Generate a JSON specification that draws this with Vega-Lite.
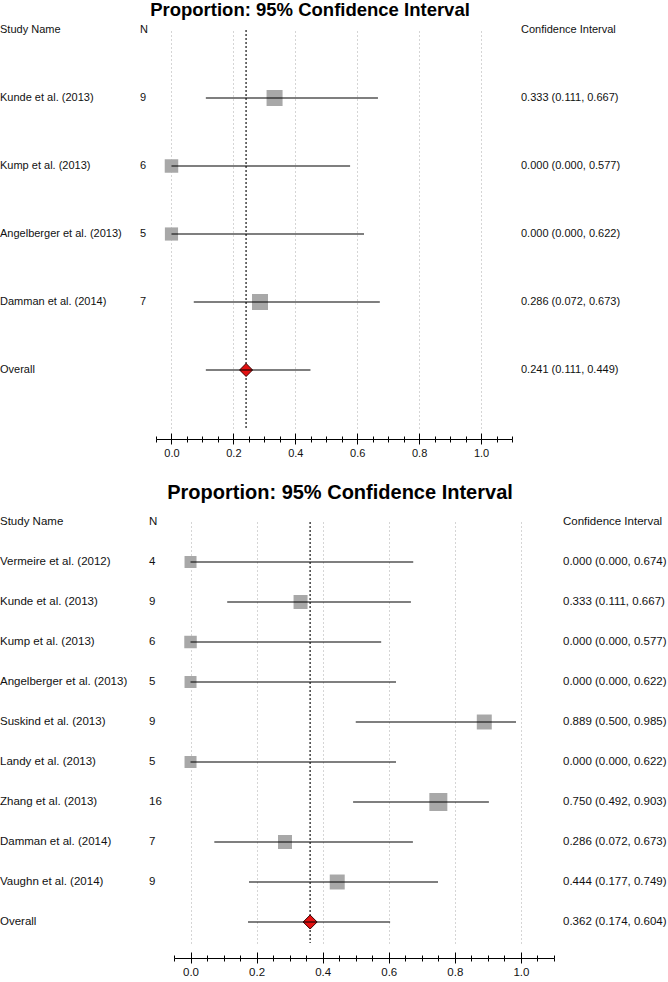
{
  "$schema": "https://vega.github.io/schema/vega-lite/v6.json",
  "padding": 0,
  "background": "white",
  "config": {"view": {"stroke": null}, "font": "Liberation Sans"},
  "resolve": {"scale": {"size": "independent"}},
  "datasets": {
    "top": [
      {"study": "Study Name", "n": "N", "ci": "Confidence Interval", "type": "header"},
      {"study": "Kunde et al. (2013)", "n": "9", "p": 0.333, "lo": 0.111, "hi": 0.667, "ci": "0.333 (0.111, 0.667)", "weight": 29.5, "type": "study"},
      {"study": "Kump et al. (2013)", "n": "6", "p": 0.0, "lo": 0.0, "hi": 0.577, "ci": "0.000 (0.000, 0.577)", "weight": 21, "type": "study"},
      {"study": "Angelberger et al. (2013)", "n": "5", "p": 0.0, "lo": 0.0, "hi": 0.622, "ci": "0.000 (0.000, 0.622)", "weight": 20, "type": "study"},
      {"study": "Damman et al. (2014)", "n": "7", "p": 0.286, "lo": 0.072, "hi": 0.673, "ci": "0.286 (0.072, 0.673)", "weight": 29.5, "type": "study"},
      {"study": "Overall", "n": "", "p": 0.241, "lo": 0.111, "hi": 0.449, "ci": "0.241 (0.111, 0.449)", "type": "overall"}
    ],
    "bottom": [
      {"study": "Study Name", "n": "N", "ci": "Confidence Interval", "type": "header"},
      {"study": "Vermeire et al. (2012)", "n": "4", "p": 0.0, "lo": 0.0, "hi": 0.674, "ci": "0.000 (0.000, 0.674)", "weight": 8.2, "type": "study"},
      {"study": "Kunde et al. (2013)", "n": "9", "p": 0.333, "lo": 0.111, "hi": 0.667, "ci": "0.333 (0.111, 0.667)", "weight": 11.2, "type": "study"},
      {"study": "Kump et al. (2013)", "n": "6", "p": 0.0, "lo": 0.0, "hi": 0.577, "ci": "0.000 (0.000, 0.577)", "weight": 8.9, "type": "study"},
      {"study": "Angelberger et al. (2013)", "n": "5", "p": 0.0, "lo": 0.0, "hi": 0.622, "ci": "0.000 (0.000, 0.622)", "weight": 8.2, "type": "study"},
      {"study": "Suskind et al. (2013)", "n": "9", "p": 0.889, "lo": 0.5, "hi": 0.985, "ci": "0.889 (0.500, 0.985)", "weight": 12.8, "type": "study"},
      {"study": "Landy et al. (2013)", "n": "5", "p": 0.0, "lo": 0.0, "hi": 0.622, "ci": "0.000 (0.000, 0.622)", "weight": 8.2, "type": "study"},
      {"study": "Zhang et al. (2013)", "n": "16", "p": 0.75, "lo": 0.492, "hi": 0.903, "ci": "0.750 (0.492, 0.903)", "weight": 18.5, "type": "study"},
      {"study": "Damman et al. (2014)", "n": "7", "p": 0.286, "lo": 0.072, "hi": 0.673, "ci": "0.286 (0.072, 0.673)", "weight": 11.2, "type": "study"},
      {"study": "Vaughn et al. (2014)", "n": "9", "p": 0.444, "lo": 0.177, "hi": 0.749, "ci": "0.444 (0.177, 0.749)", "weight": 12.8, "type": "study"},
      {"study": "Overall", "n": "", "p": 0.362, "lo": 0.174, "hi": 0.604, "ci": "0.362 (0.174, 0.604)", "type": "overall"}
    ]
  },
  "vconcat": [
    {
      "title": {"text": "Proportion: 95% Confidence Interval", "anchor": "middle", "frame": "bounds", "dx": -25, "fontSize": 18.5, "fontWeight": "bold", "font": "Liberation Sans", "color": "#000", "offset": 5},
      "data": {"name": "top"},
      "spacing": 0,
      "hconcat": [
        {
          "width": 140, "height": 398,
          "mark": {"type": "text", "align": "left", "baseline": "middle", "fontSize": 11, "color": "#111"},
          "encoding": {
            "x": {"datum": 0, "type": "quantitative", "scale": {"domain": [0, 1]}, "axis": null},
            "y": {"field": "study", "type": "nominal", "sort": null, "axis": null,
                  "scale": {"type": "point", "domain": ["Study Name", "Kunde et al. (2013)", "Kump et al. (2013)", "Angelberger et al. (2013)", "Damman et al. (2014)", "Overall"], "padding": 0.4265, "align": 0, "round": false}},
            "text": {"field": "study"}
          }
        },
        {
          "width": 15, "height": 398,
          "mark": {"type": "text", "align": "left", "baseline": "middle", "fontSize": 11, "color": "#111"},
          "encoding": {
            "x": {"datum": 0, "type": "quantitative", "scale": {"domain": [0, 1]}, "axis": null},
            "y": {"field": "study", "type": "nominal", "sort": null, "axis": null,
                  "scale": {"type": "point", "domain": ["Study Name", "Kunde et al. (2013)", "Kump et al. (2013)", "Angelberger et al. (2013)", "Damman et al. (2014)", "Overall"], "padding": 0.4265, "align": 0, "round": false}},
            "text": {"field": "n"}
          }
        },
        {
          "width": 356, "height": 398,
          "resolve": {"axis": {"x": "independent"}},
          "encoding": {
            "y": {"field": "study", "type": "nominal", "sort": null, "axis": null,
                  "scale": {"type": "point", "domain": ["Study Name", "Kunde et al. (2013)", "Kump et al. (2013)", "Angelberger et al. (2013)", "Damman et al. (2014)", "Overall"], "padding": 0.4265, "align": 0, "round": false}}
          },
          "layer": [
            {
              "transform": [{"filter": "datum.type === 'overall'"}],
              "mark": {"type": "rule", "color": "#444", "strokeWidth": 1.5, "strokeDash": [2, 2]},
              "encoding": {
                "x": {"field": "p", "type": "quantitative",
                      "scale": {"domain": [-0.05, 1.1], "nice": false, "zero": false},
                      "axis": {
                        "orient": "bottom", "offset": 11, "title": null,
                        "values": [0, 0.2, 0.4, 0.6, 0.8, 1.0], "format": ".1f",
                        "labelOverlap": false, "labelFlush": false, "labelBound": false,
                        "labelFont": "Liberation Sans", "labelFontSize": 11, "labelColor": "#111", "labelPadding": 3,
                        "tickColor": "#000", "tickWidth": 1, "tickSize": 5,
                        "domainColor": "#000", "domainWidth": 1,
                        "grid": true, "gridColor": "#aaa", "gridDash": [1, 3], "gridWidth": 1
                      }},
                "y": null
              }
            },
            {
              "transform": [{"filter": "datum.type === 'study'"}],
              "mark": {"type": "square", "filled": true, "color": "#a8a8a8", "opacity": 1},
              "encoding": {
                "x": {"field": "p", "type": "quantitative",
                      "axis": {"orient": "bottom", "offset": 11, "title": null, "labels": false, "domain": false, "grid": false,
                               "values": [-0.05, 0, 0.05, 0.1, 0.15, 0.2, 0.25, 0.3, 0.35, 0.4, 0.45, 0.5, 0.55, 0.6, 0.65, 0.7, 0.75, 0.8, 0.85, 0.9, 0.95, 1.0, 1.05, 1.1],
                               "tickColor": "#000", "tickWidth": 1, "tickSize": 3}},
                "size": {"field": "weight", "type": "quantitative", "legend": null, "scale": {"domain": [0, 29.5], "range": [0, 256]}}
              }
            },
            {
              "transform": [{"filter": "datum.type === 'overall'"}],
              "mark": {"type": "point", "shape": "diamond", "filled": true, "fill": "#e41111", "stroke": "#3a0000", "strokeWidth": 1, "opacity": 1, "size": 169},
              "encoding": {"x": {"field": "p", "type": "quantitative",
                      "axis": {"orient": "bottom", "offset": 11, "title": null, "labels": false, "domain": false, "grid": false,
                               "values": [-0.05, 0, 0.05, 0.1, 0.15, 0.2, 0.25, 0.3, 0.35, 0.4, 0.45, 0.5, 0.55, 0.6, 0.65, 0.7, 0.75, 0.8, 0.85, 0.9, 0.95, 1.0, 1.05, 1.1],
                               "tickColor": "#000", "tickWidth": 1, "tickSize": -3}}}
            },
            {
              "transform": [{"filter": "datum.type !== 'header'"}],
              "mark": {"type": "rule", "color": "#000", "strokeWidth": 1.2},
              "encoding": {
                "x": {"field": "lo", "type": "quantitative",
                      "axis": {"orient": "bottom", "offset": 11, "title": null, "labels": false, "domain": false, "grid": false,
                               "values": [0, 0.2, 0.4, 0.6, 0.8, 1.0],
                               "tickColor": "#000", "tickWidth": 1, "tickSize": -6}},
                "x2": {"field": "hi"}
              }
            }
          ]
        },
        {
          "width": 157, "height": 398,
          "mark": {"type": "text", "align": "left", "baseline": "middle", "fontSize": 11, "color": "#111", "dx": 8},
          "encoding": {
            "x": {"datum": 0, "type": "quantitative", "scale": {"domain": [0, 1]}, "axis": null},
            "y": {"field": "study", "type": "nominal", "sort": null, "axis": null,
                  "scale": {"type": "point", "domain": ["Study Name", "Kunde et al. (2013)", "Kump et al. (2013)", "Angelberger et al. (2013)", "Damman et al. (2014)", "Overall"], "padding": 0.4265, "align": 0, "round": false}},
            "text": {"field": "ci"}
          }
        }
      ]
    },
    {
      "title": {"text": "Proportion: 95% Confidence Interval", "anchor": "middle", "frame": "bounds", "dx": 5, "fontSize": 20, "fontWeight": "bold", "font": "Liberation Sans", "color": "#000", "offset": 13},
      "data": {"name": "bottom"},
      "spacing": 0,
      "hconcat": [
        {
          "width": 149, "height": 421,
          "mark": {"type": "text", "align": "left", "baseline": "middle", "fontSize": 11.5, "color": "#111"},
          "encoding": {
            "x": {"datum": 0, "type": "quantitative", "scale": {"domain": [0, 1]}, "axis": null},
            "y": {"field": "study", "type": "nominal", "sort": null, "axis": null,
                  "scale": {"type": "point", "domain": ["Study Name", "Vermeire et al. (2012)", "Kunde et al. (2013)", "Kump et al. (2013)", "Angelberger et al. (2013)", "Suskind et al. (2013)", "Landy et al. (2013)", "Zhang et al. (2013)", "Damman et al. (2014)", "Vaughn et al. (2014)", "Overall"], "padding": 0.2625, "align": 0, "round": false}},
            "text": {"field": "study"}
          }
        },
        {
          "width": 24, "height": 421,
          "mark": {"type": "text", "align": "left", "baseline": "middle", "fontSize": 11.5, "color": "#111"},
          "encoding": {
            "x": {"datum": 0, "type": "quantitative", "scale": {"domain": [0, 1]}, "axis": null},
            "y": {"field": "study", "type": "nominal", "sort": null, "axis": null,
                  "scale": {"type": "point", "domain": ["Study Name", "Vermeire et al. (2012)", "Kunde et al. (2013)", "Kump et al. (2013)", "Angelberger et al. (2013)", "Suskind et al. (2013)", "Landy et al. (2013)", "Zhang et al. (2013)", "Damman et al. (2014)", "Vaughn et al. (2014)", "Overall"], "padding": 0.2625, "align": 0, "round": false}},
            "text": {"field": "n"}
          }
        },
        {
          "width": 380, "height": 421,
          "resolve": {"axis": {"x": "independent"}},
          "encoding": {
            "y": {"field": "study", "type": "nominal", "sort": null, "axis": null,
                  "scale": {"type": "point", "domain": ["Study Name", "Vermeire et al. (2012)", "Kunde et al. (2013)", "Kump et al. (2013)", "Angelberger et al. (2013)", "Suskind et al. (2013)", "Landy et al. (2013)", "Zhang et al. (2013)", "Damman et al. (2014)", "Vaughn et al. (2014)", "Overall"], "padding": 0.2625, "align": 0, "round": false}}
          },
          "layer": [
            {
              "transform": [{"filter": "datum.type === 'overall'"}],
              "mark": {"type": "rule", "color": "#444", "strokeWidth": 1.5, "strokeDash": [2, 2]},
              "encoding": {
                "x": {"field": "p", "type": "quantitative",
                      "scale": {"domain": [-0.05, 1.1], "nice": false, "zero": false},
                      "axis": {
                        "orient": "bottom", "offset": 15, "title": null,
                        "values": [0, 0.2, 0.4, 0.6, 0.8, 1.0], "format": ".1f",
                        "labelOverlap": false, "labelFlush": false, "labelBound": false,
                        "labelFont": "Liberation Sans", "labelFontSize": 11.5, "labelColor": "#111", "labelPadding": 3,
                        "tickColor": "#000", "tickWidth": 1, "tickSize": 5,
                        "domainColor": "#000", "domainWidth": 1,
                        "grid": true, "gridColor": "#aaa", "gridDash": [1, 3], "gridWidth": 1
                      }},
                "y": null
              }
            },
            {
              "transform": [{"filter": "datum.type === 'study'"}],
              "mark": {"type": "square", "filled": true, "color": "#a8a8a8", "opacity": 1},
              "encoding": {
                "x": {"field": "p", "type": "quantitative",
                      "axis": {"orient": "bottom", "offset": 15, "title": null, "labels": false, "domain": false, "grid": false,
                               "values": [-0.05, 0, 0.05, 0.1, 0.15, 0.2, 0.25, 0.3, 0.35, 0.4, 0.45, 0.5, 0.55, 0.6, 0.65, 0.7, 0.75, 0.8, 0.85, 0.9, 0.95, 1.0, 1.05, 1.1],
                               "tickColor": "#000", "tickWidth": 1, "tickSize": 3}},
                "size": {"field": "weight", "type": "quantitative", "legend": null, "scale": {"domain": [0, 18.5], "range": [0, 324]}}
              }
            },
            {
              "transform": [{"filter": "datum.type === 'overall'"}],
              "mark": {"type": "point", "shape": "diamond", "filled": true, "fill": "#e41111", "stroke": "#3a0000", "strokeWidth": 1, "opacity": 1, "size": 196},
              "encoding": {"x": {"field": "p", "type": "quantitative",
                      "axis": {"orient": "bottom", "offset": 15, "title": null, "labels": false, "domain": false, "grid": false,
                               "values": [-0.05, 0, 0.05, 0.1, 0.15, 0.2, 0.25, 0.3, 0.35, 0.4, 0.45, 0.5, 0.55, 0.6, 0.65, 0.7, 0.75, 0.8, 0.85, 0.9, 0.95, 1.0, 1.05, 1.1],
                               "tickColor": "#000", "tickWidth": 1, "tickSize": -3}}}
            },
            {
              "transform": [{"filter": "datum.type !== 'header'"}],
              "mark": {"type": "rule", "color": "#000", "strokeWidth": 1.2},
              "encoding": {
                "x": {"field": "lo", "type": "quantitative",
                      "axis": {"orient": "bottom", "offset": 15, "title": null, "labels": false, "domain": false, "grid": false,
                               "values": [0, 0.2, 0.4, 0.6, 0.8, 1.0],
                               "tickColor": "#000", "tickWidth": 1, "tickSize": -6}},
                "x2": {"field": "hi"}
              }
            }
          ]
        },
        {
          "width": 115, "height": 421,
          "mark": {"type": "text", "align": "left", "baseline": "middle", "fontSize": 11.5, "color": "#111", "dx": 8},
          "encoding": {
            "x": {"datum": 0, "type": "quantitative", "scale": {"domain": [0, 1]}, "axis": null},
            "y": {"field": "study", "type": "nominal", "sort": null, "axis": null,
                  "scale": {"type": "point", "domain": ["Study Name", "Vermeire et al. (2012)", "Kunde et al. (2013)", "Kump et al. (2013)", "Angelberger et al. (2013)", "Suskind et al. (2013)", "Landy et al. (2013)", "Zhang et al. (2013)", "Damman et al. (2014)", "Vaughn et al. (2014)", "Overall"], "padding": 0.2625, "align": 0, "round": false}},
            "text": {"field": "ci"}
          }
        }
      ]
    }
  ],
  "spacing": 25
}
